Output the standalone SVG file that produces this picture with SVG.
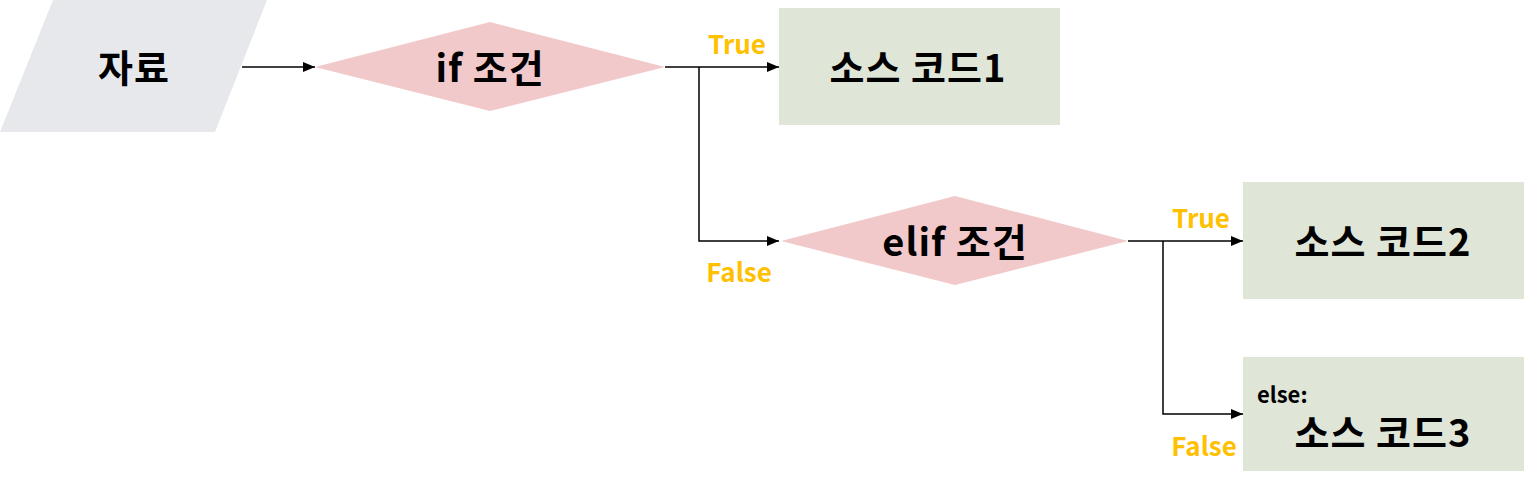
<svg xmlns="http://www.w3.org/2000/svg" width="1524" height="480" viewBox="0 0 1524 480">
<defs>
<marker id="ah" markerWidth="12" markerHeight="10" refX="12" refY="5" orient="auto" markerUnits="userSpaceOnUse">
<path d="M0,0 L12,5 L0,10 Z" fill="#000"/>
</marker>
<style>
.t{font-family:"Noto Sans CJK KR","Noto Sans",sans-serif;font-weight:bold;font-size:38px;letter-spacing:1px;fill:#000;text-anchor:middle;dominant-baseline:central}
.lbl{font-family:"Noto Sans CJK KR","Noto Sans",sans-serif;font-weight:bold;font-size:26px;fill:#ffc000;text-anchor:middle;dominant-baseline:central}
.box{fill:#dfe5d7}
.dia{fill:#f2c9ca}
.ln{stroke:#000;stroke-width:1.5;fill:none}
</style>
</defs>
<g id="data">
<polygon points="53,0 267,0 215,132 0,132" fill="#e7e8ec"/>
<text class="t" x="134" y="65">자료</text>
</g>
<g id="cond1">
<polygon class="dia" points="315,67 490,22 665,67 490,111"/>
<text class="t" x="490" y="65">if 조건</text>
</g>
<g id="code1">
<rect class="box" x="779" y="8" width="281" height="117"/>
<text class="t" x="918" y="65">소스 코드1</text>
</g>
<g id="cond2">
<polygon class="dia" points="781,241 955,196 1128,241 955,285"/>
<text class="t" x="955" y="239">elif 조건</text>
</g>
<g id="code2">
<rect class="box" x="1243" y="182" width="281" height="117"/>
<text class="t" x="1383" y="239">소스 코드2</text>
</g>
<g id="code3">
<rect class="box" x="1243" y="357" width="281" height="114"/>
<text x="1257" y="393" style="font-family:'Noto Sans CJK KR','Noto Sans',sans-serif;font-weight:bold;font-size:22px;fill:#000;dominant-baseline:central">else:</text>
<text class="t" x="1383" y="430">소스 코드3</text>
</g>
<g id="connectors">
<line class="ln" x1="242" y1="67" x2="315" y2="67" marker-end="url(#ah)"/>
<line class="ln" x1="665" y1="67" x2="779" y2="67" marker-end="url(#ah)"/>
<polyline class="ln" points="699,67 699,241 779,241" marker-end="url(#ah)"/>
<line class="ln" x1="1128" y1="241" x2="1243" y2="241" marker-end="url(#ah)"/>
<polyline class="ln" points="1163,241 1163,414 1243,414" marker-end="url(#ah)"/>
</g>
<g id="labels">
<text class="lbl" x="737" y="42">True</text>
<text class="lbl" x="739" y="270">False</text>
<text class="lbl" x="1201" y="216">True</text>
<text class="lbl" x="1204" y="444">False</text>
</g>
</svg>
